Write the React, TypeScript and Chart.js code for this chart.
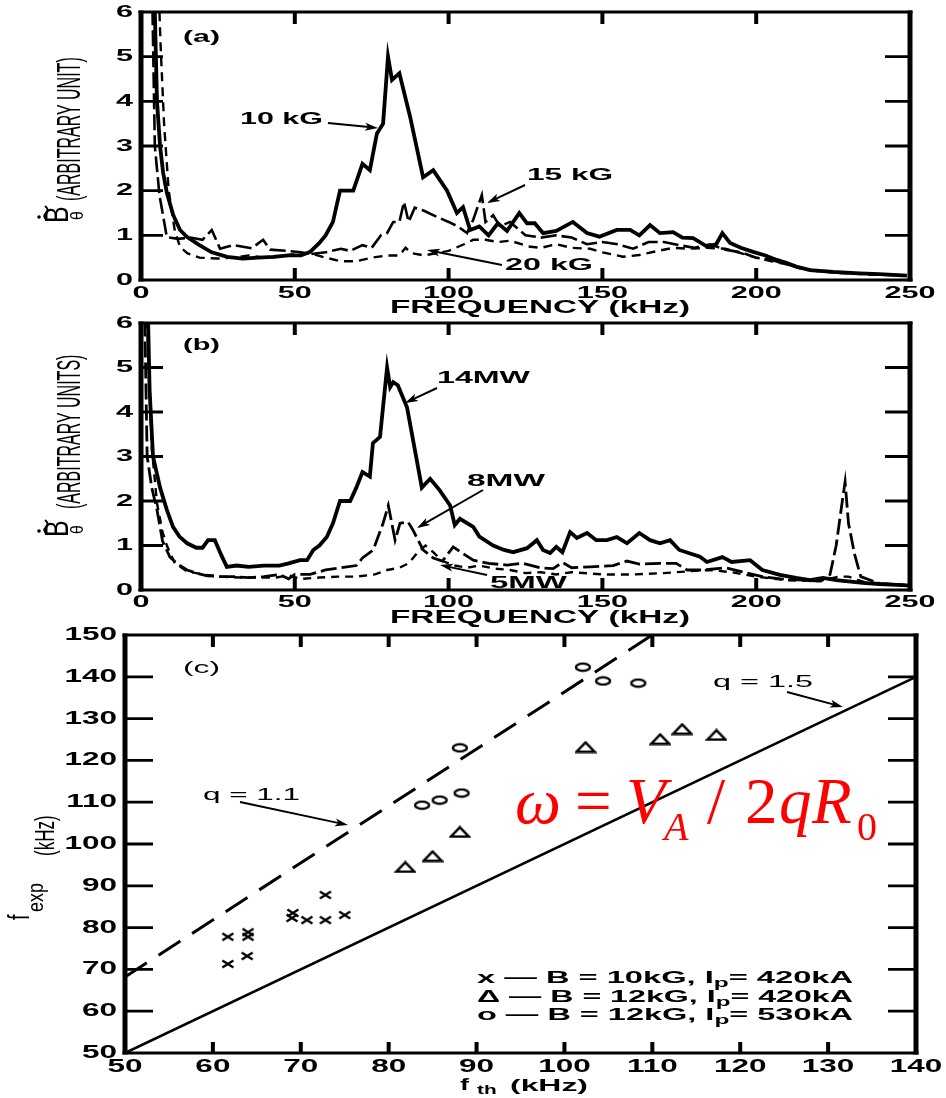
import React, { useEffect, useRef } from "react";
import { Chart, registerables } from "chart.js";

Chart.register(...registerables);

// ---------------- Panel (a): frequency spectra vs toroidal field ----------------
const freqA10 = [3, 4.5, 5.2, 6.2, 7.2, 8.4, 10.5, 12.7, 15, 19, 23, 28, 33, 38, 43, 48, 52, 55, 58, 60, 62.4, 64.7, 69, 72, 74.4, 76.7, 78.7, 80.3, 81.6, 84, 87.5, 91.7, 95, 99.5, 102.7, 104.7, 107, 110, 113, 116, 119, 123, 125.5, 128, 130.7, 135, 140.4, 145, 149, 154.7, 159, 162, 165.5, 168.7, 173, 176, 179.5, 184, 187, 189, 191.5, 195, 199, 203, 206.7, 210, 213, 217.5, 225, 233.7, 240, 249];
const valA10 = [8, 6, 4, 3, 2.4, 1.95, 1.45, 1.12, 0.96, 0.78, 0.62, 0.52, 0.48, 0.5, 0.52, 0.55, 0.55, 0.63, 0.83, 1.0, 1.3, 2.0, 2.0, 2.6, 2.46, 3.28, 3.5, 5.0, 4.48, 4.63, 3.65, 2.3, 2.46, 2.0, 1.5, 1.63, 1.12, 1.2, 1.0, 1.27, 1.1, 1.5, 1.27, 1.27, 1.05, 1.1, 1.3, 1.05, 0.97, 1.12, 1.12, 1.0, 1.23, 1.05, 1.07, 0.95, 0.94, 0.75, 0.8, 1.05, 0.83, 0.72, 0.63, 0.55, 0.45, 0.38, 0.3, 0.22, 0.18, 0.15, 0.13, 0.1];

const freqA15 = [3.5, 4.5, 6, 8.4, 12, 16, 20, 23, 25.7, 30, 36, 39.7, 42, 48, 52, 55, 60, 65, 68, 72, 75, 78, 80, 82, 84, 85.5, 87, 89, 92, 96, 100, 103, 106, 108, 110.8, 112, 114.5, 116.7, 120, 125, 130, 135, 140, 145, 150, 155, 160, 165, 170, 175, 180, 185, 190, 195, 200, 205, 210, 215, 220, 230, 240, 250];
const valA15 = [7, 3, 1.9, 0.96, 0.92, 0.95, 0.9, 1.12, 0.7, 0.78, 0.71, 0.9, 0.68, 0.65, 0.62, 0.58, 0.62, 0.7, 0.65, 0.78, 0.72, 1.0, 1.05, 1.3, 1.3, 1.75, 1.3, 1.62, 1.55, 1.42, 1.3, 1.2, 1.05, 1.35, 1.9, 1.3, 1.45, 1.2, 1.3, 1.0, 0.95, 1.0, 0.95, 0.8, 0.85, 0.8, 0.7, 0.85, 0.85, 0.78, 0.72, 0.8, 0.68, 0.62, 0.5, 0.45, 0.35, 0.25, 0.2, 0.15, 0.12, 0.1];

const freqA20 = [5.5, 6.4, 7.5, 9, 11, 12.7, 15, 19, 25, 30, 35, 40, 45, 50, 55, 60, 65, 70, 75, 80, 84, 86, 88, 92, 96, 100, 105, 108, 112, 116, 120, 126, 130, 135, 140, 146, 150, 156.7, 162, 168, 173, 178, 184, 190, 195, 200, 205, 210, 215, 220, 230, 240, 250];
const valA20 = [7, 5.2, 3.5, 2, 1.1, 0.74, 0.6, 0.5, 0.48, 0.5, 0.55, 0.5, 0.52, 0.58, 0.6, 0.5, 0.42, 0.42, 0.5, 0.55, 0.55, 0.72, 0.6, 0.55, 0.6, 0.65, 0.8, 0.9, 0.9, 0.85, 0.88, 0.75, 0.72, 0.8, 0.72, 0.7, 0.62, 0.52, 0.56, 0.65, 0.72, 0.7, 0.72, 0.7, 0.6, 0.5, 0.42, 0.35, 0.25, 0.2, 0.14, 0.12, 0.1];

// ---------------- Panel (b): frequency spectra vs heating power ----------------
const freqB14 = [2, 2.8, 3.9, 6.2, 8.4, 10.4, 12.5, 15, 18, 20, 21.8, 24, 26, 27.9, 31, 35, 40, 45, 48, 51.7, 54, 56, 58, 60.4, 62.4, 64.7, 68, 70, 72, 74.4, 75.4, 77.7, 80, 81, 82, 83.5, 86.5, 91.3, 94, 97, 100.5, 102, 103.7, 108, 110, 114.5, 118, 121, 125.5, 128.7, 130.7, 133, 135, 137, 139.5, 141.7, 145, 148, 151.5, 154.7, 158, 162, 165.5, 168.7, 172, 175, 181.7, 184, 189, 192, 198, 202, 207.7, 213, 217.5, 221.7, 226, 234.7, 240, 247.7, 250];
const valB14 = [7, 4.5, 3, 2.3, 1.8, 1.42, 1.2, 1.05, 0.95, 0.95, 1.12, 1.12, 0.8, 0.52, 0.55, 0.52, 0.55, 0.55, 0.6, 0.67, 0.67, 0.9, 1.0, 1.19, 1.5, 2.0, 2.0, 2.3, 2.65, 2.55, 3.3, 3.44, 5.0, 4.56, 4.67, 4.6, 4.1, 2.3, 2.5, 2.25, 1.9, 1.46, 1.6, 1.42, 1.2, 1.0, 0.9, 0.85, 0.94, 1.12, 0.9, 0.83, 0.97, 0.85, 1.3, 1.17, 1.28, 1.12, 1.12, 1.19, 1.05, 1.28, 1.12, 1.05, 1.12, 0.9, 0.75, 0.63, 0.74, 0.63, 0.67, 0.45, 0.34, 0.27, 0.22, 0.27, 0.22, 0.16, 0.13, 0.11, 0.1];

const freqB8 = [1, 2, 3.5, 5.2, 7, 9.4, 12, 15, 18, 21.5, 26, 30, 35, 40, 45, 48, 50, 55, 60, 65, 70, 72, 75.5, 78.7, 80.4, 82.6, 84.2, 86.8, 88.4, 91.7, 95, 98, 101.5, 104, 108, 113, 119, 124, 129.7, 134, 137, 140, 146, 153.5, 158, 162, 168.7, 174, 177.5, 183, 190, 196, 202, 208, 215, 221, 224, 226, 228, 228.9, 230, 232, 234, 240, 250];
const valB8 = [7, 3, 2.3, 1.8, 1.1, 0.74, 0.58, 0.45, 0.38, 0.32, 0.3, 0.3, 0.28, 0.3, 0.35, 0.25, 0.35, 0.35, 0.45, 0.5, 0.55, 0.72, 0.9, 1.5, 1.9, 1.12, 1.5, 1.53, 1.35, 0.9, 0.72, 0.65, 0.97, 0.85, 0.67, 0.6, 0.56, 0.6, 0.5, 0.48, 0.62, 0.5, 0.52, 0.55, 0.65, 0.58, 0.6, 0.6, 0.45, 0.45, 0.5, 0.4, 0.3, 0.25, 0.22, 0.2, 0.35, 1.0, 2.0, 2.43, 1.5, 0.8, 0.3, 0.15, 0.1];

const freqB5 = [1.5, 2.5, 3.5, 5.2, 7, 8.4, 11, 15, 20, 26, 32, 38, 44, 48, 52, 58, 64, 70, 76, 80, 84, 87, 90, 92.5, 95, 98, 102, 106, 110, 115, 120, 125, 130, 135, 140, 150, 160, 170, 178, 185, 192, 200, 210, 220, 227, 230, 235, 245, 250];
const valB5 = [7, 5, 3.2, 1.95, 1.3, 1.0, 0.6, 0.42, 0.35, 0.3, 0.28, 0.28, 0.28, 0.33, 0.25, 0.28, 0.3, 0.3, 0.35, 0.45, 0.5, 0.6, 0.85, 1.0, 0.85, 0.65, 0.55, 0.5, 0.55, 0.48, 0.45, 0.38, 0.4, 0.35, 0.4, 0.35, 0.35, 0.38, 0.42, 0.45, 0.4, 0.3, 0.22, 0.2, 0.3, 0.3, 0.18, 0.12, 0.1];

const freqTicks = [0, 50, 100, 150, 200, 250];
const ampTicks = [0, 1, 2, 3, 4, 5, 6];

// ---------------- Panel (c): f_exp vs f_th ----------------
const crossFth = [61.7, 61.7, 63.9, 64, 64, 69.1, 69, 70.7, 72.8, 72.8, 75];
const crossFexp = [77.8, 71.3, 73.2, 78.9, 77.8, 83.5, 82.3, 81.8, 81.8, 87.8, 83];
const triFth = [81.9, 85, 88.1, 102.4, 110.9, 113.4, 117.3];
const triFexp = [94.5, 97.1, 102.9, 123.2, 125.1, 127.5, 126.1];
const circFth = [83.8, 85.8, 88.3, 88.1, 102.1, 104.4, 108.4];
const circFexp = [109.3, 110.5, 112.2, 123.0, 142.3, 139.0, 138.5];
const q15Fth = [50, 140];
const q15Fexp = [50, 140];
const q11Fth = [50, 110];
const q11Fexp = [68.2, 150];
const fthTicks = [50, 60, 70, 80, 90, 100, 110, 120, 130, 140];
const fexpTicks = [50, 60, 70, 80, 90, 100, 110, 120, 130, 140, 150];

// ---------------- layout geometry (plot-area sizes in px) ----------------
const GEO_A = { cw: 946, ch: 320, left: 141, right: 910, top: 12, bottom: 280 };
const GEO_B = { cw: 946, ch: 320, left: 141, right: 910, top: 13, bottom: 280 };
const GEO_C = { cw: 946, ch: 478, left: 125, right: 916, top: 15, bottom: 433 };

// ---------------- drawing helpers ----------------
const SANS = '"Liberation Sans", Arial, Helvetica, sans-serif';
const SERIF = '"Liberation Serif", "Times New Roman", serif';
const SX = 1.8;

function fnt(size: number, bold = false, italic = false, fam = SANS) {
  return `${italic ? "italic " : ""}${bold ? "bold " : ""}${size}px ${fam}`;
}

function textAt(ctx: any, txt: string, x: number, y: number, size: number, opt: any = {}) {
  const sx = opt.sx ?? SX;
  ctx.save();
  ctx.font = fnt(size, !!opt.bold, !!opt.italic, opt.fam ?? SANS);
  ctx.textBaseline = opt.base ?? "middle";
  ctx.textAlign = "left";
  const w = ctx.measureText(txt).width * sx;
  const x0 = opt.align === "center" ? x - w / 2 : opt.align === "right" ? x - w : x;
  ctx.translate(x0, y);
  ctx.scale(sx, 1);
  ctx.fillStyle = opt.color ?? "#000";
  ctx.fillText(txt, 0, 0);
  ctx.restore();
  return w;
}

function fitText(ctx: any, txt: string, x0: number, x1: number, y: number, size: number, bold = false) {
  ctx.save();
  ctx.font = fnt(size, bold);
  const w = ctx.measureText(txt).width;
  ctx.restore();
  textAt(ctx, txt, x0, y, size, { bold, sx: (x1 - x0) / w });
}

type Seg = { t: string; size: number; dy?: number; bold?: boolean };
function fitSegs(ctx: any, parts: Seg[], x0: number, x1: number, y: number) {
  const ws: number[] = [];
  let total = 0;
  ctx.save();
  for (const s of parts) {
    ctx.font = fnt(s.size, !!s.bold);
    const w = ctx.measureText(s.t).width;
    ws.push(w);
    total += w;
  }
  ctx.restore();
  const sx = (x1 - x0) / total;
  let x = x0;
  parts.forEach((s, i) => {
    textAt(ctx, s.t, x, y + (s.dy ?? 0), s.size, { bold: s.bold, sx, base: "alphabetic" });
    x += ws[i] * sx;
  });
}

function vText(ctx: any, txt: string, bx: number, by: number, size: number, sy: number, bold = false) {
  ctx.save();
  ctx.translate(bx, by);
  ctx.rotate(-Math.PI / 2);
  ctx.scale(1, sy);
  ctx.font = fnt(size, bold);
  ctx.textBaseline = "alphabetic";
  ctx.textAlign = "left";
  ctx.fillStyle = "#000";
  ctx.fillText(txt, 0, 0);
  ctx.restore();
}

function arrow(ctx: any, x1: number, y1: number, x2: number, y2: number, lw = 2, head = 13) {
  ctx.save();
  ctx.setLineDash([]);
  ctx.strokeStyle = "#000";
  ctx.fillStyle = "#000";
  ctx.lineWidth = lw;
  const a = Math.atan2(y2 - y1, x2 - x1);
  const c = Math.cos(a), s = Math.sin(a);
  ctx.beginPath();
  ctx.moveTo(x1, y1);
  ctx.lineTo(x2 - c * head * 0.7, y2 - s * head * 0.7);
  ctx.stroke();
  ctx.beginPath();
  ctx.moveTo(x2, y2);
  ctx.lineTo(x2 - head * c + 4 * s, y2 - head * s - 4 * c);
  ctx.lineTo(x2 - head * c * 0.75, y2 - head * s * 0.75);
  ctx.lineTo(x2 - head * c - 4 * s, y2 - head * s + 4 * c);
  ctx.closePath();
  ctx.fill();
  ctx.restore();
}

// tick labels, titles and annotations
function labelPlugin(id: string, cfg: any, extra: (ctx: any) => void) {
  return {
    id,
    afterDraw(chart: any) {
      const ctx = chart.ctx;
      const xs = chart.scales.x;
      const ys = chart.scales.y;
      ctx.save();
      (cfg.yTicks as number[]).forEach((v) =>
        textAt(ctx, String(v), cfg.yLabelX, ys.getPixelForValue(v), cfg.labelSize, { bold: true, align: "right", sx: cfg.labelSx })
      );
      (cfg.xTicks as number[]).forEach((v) =>
        textAt(ctx, String(v), xs.getPixelForValue(v), cfg.xLabelY, cfg.labelSize, { bold: true, align: "center", sx: cfg.labelSx })
      );
      extra(ctx);
      ctx.restore();
    },
  };
}

function lineDs(xs: number[], ys: number[], w: number, dash: number[]) {
  return {
    data: xs.map((x, i) => ({ x, y: ys[i] })),
    borderColor: "#000",
    backgroundColor: "#000",
    borderWidth: w,
    borderDash: dash,
    pointRadius: 0,
    tension: 0,
    fill: false,
  };
}

// frame and inward tick marks, drawn as line datasets through the chart's scales
function frameDatasets(xt: number[], yt: number[], geo: any, len: { yL: number; yR: number; xT: number; xB: number }) {
  const x0 = xt[0], x1 = xt[xt.length - 1], y0 = yt[0], y1 = yt[yt.length - 1];
  const xPer = (x1 - x0) / (geo.right - geo.left);
  const yPer = (y1 - y0) / (geo.bottom - geo.top);
  const gap = (x: number) => ({ x, y: null as any });
  const yTickPts: any[] = [];
  yt.slice(1, -1).forEach((v) => {
    yTickPts.push({ x: x0, y: v }, { x: x0 + len.yL * xPer, y: v }, gap(x0));
    yTickPts.push({ x: x1 - len.yR * xPer, y: v }, { x: x1, y: v }, gap(x1));
  });
  const xTickPts: any[] = [];
  xt.slice(1, -1).forEach((v) => {
    xTickPts.push({ x: v, y: y1 }, { x: v, y: y1 - len.xT * yPer }, gap(v));
    xTickPts.push({ x: v, y: y0 }, { x: v, y: y0 + len.xB * yPer }, gap(v));
  });
  const hPts = [{ x: x0 - 2.5 * xPer, y: y1 }, { x: x1 + 2.5 * xPer, y: y1 }, gap(x1), { x: x0 - 2.5 * xPer, y: y0 }, { x: x1 + 2.5 * xPer, y: y0 }];
  const vPts = [{ x: x0, y: y0 - 1.5 * yPer }, { x: x0, y: y1 + 1.5 * yPer }, gap(x0), { x: x1, y: y0 - 1.5 * yPer }, { x: x1, y: y1 + 1.5 * yPer }];
  const mk = (data: any[], w: number) => ({
    data,
    borderColor: "#000",
    backgroundColor: "#000",
    borderWidth: w,
    borderDash: [],
    borderCapStyle: "butt",
    pointRadius: 0,
    tension: 0,
    fill: false,
    spanGaps: false,
    clip: false,
  });
  return [mk(yTickPts, 2.8), mk(xTickPts, 4), mk(hPts, 3), mk(vPts, 5)];
}

function scaleOpts(min: number, max: number, ticks: number[], fit: (s: any) => void) {
  return {
    type: "linear",
    min,
    max,
    ticks: { display: false },
    grid: { display: false },
    border: { display: false },
    afterBuildTicks: (s: any) => {
      s.ticks = ticks.map((v) => ({ value: v }));
    },
    afterFit: fit,
  };
}

function baseOptions(geo: any, xScale: any, yScale: any) {
  return {
    animation: false,
    responsive: false,
    events: [],
    layout: { padding: { left: 0, right: geo.cw - geo.right, top: geo.top, bottom: 0 }, autoPadding: false },
    plugins: { legend: { display: false }, tooltip: { enabled: false } },
    scales: { x: xScale, y: yScale },
  };
}

function drawYTitle(ctx: any, label: string, bTop: number, pStart: number) {
  vText(ctx, "B", 68, bTop, 25, 1.3, false);
  vText(ctx, "θ", 83, bTop - 3, 16, 1.2, false);
  ctx.save();
  ctx.strokeStyle = "#000";
  ctx.fillStyle = "#000";
  ctx.lineWidth = 2;
  ctx.beginPath();
  ctx.moveTo(47, bTop - 3);
  ctx.quadraticCurveTo(42, bTop - 7, 46, bTop - 10);
  ctx.quadraticCurveTo(50, bTop - 13, 45, bTop - 17);
  ctx.stroke();
  ctx.beginPath();
  ctx.arc(39, bTop - 6, 1.8, 0, Math.PI * 2);
  ctx.fill();
  ctx.restore();
  vText(ctx, label, 80, pStart, 16, 2.1, false);
}

export default function App() {
  const refA = useRef<HTMLCanvasElement>(null);
  const refB = useRef<HTMLCanvasElement>(null);
  const refC = useRef<HTMLCanvasElement>(null);

  useEffect(() => {
    const charts: Chart[] = [];
    const cfgAB = { xTicks: freqTicks, yTicks: ampTicks, yLabelX: 133, labelSize: 17, labelSx: 1.8 };
    const lenAB = { yL: 22, yR: 25, xT: 12, xB: 12 };

    // ---------- (a) ----------
    charts.push(
      new Chart(refA.current as HTMLCanvasElement, {
        type: "line",
        data: {
          datasets: [
            ...frameDatasets(freqTicks, ampTicks, GEO_A, lenAB),
            lineDs(freqA10, valA10, 3.8, []),
            lineDs(freqA15, valA15, 2.6, [16, 5]),
            lineDs(freqA20, valA20, 2.4, [9, 6]),
          ] as any,
        },
        options: baseOptions(
          GEO_A,
          scaleOpts(0, 250, freqTicks, (s: any) => { s.height = GEO_A.ch - GEO_A.bottom; }),
          scaleOpts(0, 6, ampTicks, (s: any) => { s.width = GEO_A.left; })
        ) as any,
        plugins: [
          labelPlugin("labA", { ...cfgAB, xLabelY: 293 }, (ctx: any) => {
            fitText(ctx, "(a)", 183, 220, 37, 17, true);
            fitText(ctx, "10 kG", 240, 323, 119, 17, true);
            arrow(ctx, 328, 123, 378, 128);
            fitText(ctx, "15 kG", 527, 613, 175, 17, true);
            arrow(ctx, 525, 185, 487, 203);
            fitText(ctx, "20 kG", 505, 593, 265, 17, true);
            arrow(ctx, 502, 265, 427, 250);
            fitText(ctx, "FREQUENCY (kHz)", 390, 690, 308, 18, true);
            drawYTitle(ctx, "(ARBITRARY UNIT)", 223, 201);
          }),
        ],
      })
    );

    // ---------- (b) ----------
    charts.push(
      new Chart(refB.current as HTMLCanvasElement, {
        type: "line",
        data: {
          datasets: [
            ...frameDatasets(freqTicks, ampTicks, GEO_B, lenAB),
            lineDs(freqB14, valB14, 3.8, []),
            lineDs(freqB8, valB8, 2.8, [16, 5]),
            lineDs(freqB5, valB5, 2.4, [8, 6]),
          ] as any,
        },
        options: baseOptions(
          GEO_B,
          scaleOpts(0, 250, freqTicks, (s: any) => { s.height = GEO_B.ch - GEO_B.bottom; }),
          scaleOpts(0, 6, ampTicks, (s: any) => { s.width = GEO_B.left; })
        ) as any,
        plugins: [
          labelPlugin("labB", { ...cfgAB, xLabelY: 292 }, (ctx: any) => {
            fitText(ctx, "(b)", 183, 220, 35, 17, true);
            fitText(ctx, "14MW", 437, 530, 68, 17, true);
            arrow(ctx, 437, 78, 405, 93);
            fitText(ctx, "8MW", 467, 545, 171, 17, true);
            arrow(ctx, 483, 180, 417, 218);
            fitText(ctx, "5MW", 490, 567, 273, 17, true);
            arrow(ctx, 487, 265, 440, 255);
            fitText(ctx, "FREQUENCY (kHz)", 390, 690, 308, 18, true);
            drawYTitle(ctx, "(ARBITRARY UNITS)", 227, 199);
          }),
        ],
      })
    );

    // ---------- (c) ----------
    const mk = (w: number, h: number, draw: (g: CanvasRenderingContext2D) => void) => {
      const c = document.createElement("canvas");
      c.width = w;
      c.height = h;
      const g = c.getContext("2d") as CanvasRenderingContext2D;
      g.strokeStyle = "#000";
      draw(g);
      return c;
    };
    const crossImg = mk(14, 10, (g) => {
      g.lineWidth = 2.2;
      g.beginPath();
      g.moveTo(1.5, 1.5); g.lineTo(12.5, 8.5);
      g.moveTo(12.5, 1.5); g.lineTo(1.5, 8.5);
      g.stroke();
    });
    const triImg = mk(22, 13, (g) => {
      g.lineWidth = 2.4;
      g.beginPath();
      g.moveTo(11, 1.8); g.lineTo(20.2, 11.3); g.lineTo(1.8, 11.3);
      g.closePath();
      g.stroke();
    });
    const circImg = mk(18, 11, (g) => {
      g.lineWidth = 2.4;
      g.beginPath();
      g.ellipse(9, 5.5, 7, 3.6, 0, 0, Math.PI * 2);
      g.stroke();
    });
    const ptDs = (xs: number[], ys: number[], img: HTMLCanvasElement) => ({
      data: xs.map((x, i) => ({ x, y: ys[i] })),
      showLine: false,
      pointStyle: img,
      pointRadius: 5,
      borderColor: "#000",
      backgroundColor: "#000",
    });
    const cfgC = { xTicks: fthTicks, yTicks: fexpTicks, yLabelX: 117, xLabelY: 447, labelSize: 18, labelSx: 1.75 };

    charts.push(
      new Chart(refC.current as HTMLCanvasElement, {
        type: "line",
        data: {
          datasets: [
            ...frameDatasets(fthTicks, fexpTicks, GEO_C, { yL: 28, yR: 28, xT: 12, xB: 11 }),
            lineDs(q15Fth, q15Fexp, 2.6, []),
            lineDs(q11Fth, q11Fexp, 3, [26, 14]),
            ptDs(crossFth, crossFexp, crossImg),
            ptDs(triFth, triFexp, triImg),
            ptDs(circFth, circFexp, circImg),
          ] as any,
        },
        options: baseOptions(
          GEO_C,
          scaleOpts(50, 140, fthTicks, (s: any) => { s.height = GEO_C.ch - GEO_C.bottom; }),
          scaleOpts(50, 150, fexpTicks, (s: any) => { s.width = GEO_C.left; })
        ) as any,
        plugins: [
          labelPlugin("labC", cfgC, (ctx: any) => {
            fitText(ctx, "(c)", 183, 220, 48, 17, false);
            fitText(ctx, "q = 1.1", 203, 300, 175, 17, false);
            arrow(ctx, 240, 182, 348, 205);
            fitText(ctx, "q = 1.5", 713, 813, 62, 17, false);
            arrow(ctx, 787, 72, 843, 87);
            const leg: [string, string][] = [
              ["x — B = 10kG, I", "= 420kA"],
              ["Δ — B = 12kG, I", "= 420kA"],
              ["o — B = 12kG, I", "= 530kA"],
            ];
            const ly = [363, 382, 400];
            leg.forEach((l, i) => {
              fitSegs(
                ctx,
                [
                  { t: l[0], size: 16, bold: true },
                  { t: "p", size: 12, dy: 4, bold: true },
                  { t: l[1], size: 16, bold: true },
                ],
                477,
                853,
                ly[i]
              );
            });
            // x-axis title f_th (kHz)
            textAt(ctx, "f", 460, 470, 17, { bold: true, base: "alphabetic", sx: 1.6 });
            textAt(ctx, "th", 477, 474, 13, { bold: true, base: "alphabetic", sx: 1.6 });
            fitSegs(ctx, [{ t: "(kHz)", size: 17, bold: true }], 510, 588, 471);
            // y-axis title f_exp(kHz)
            vText(ctx, "f", 29, 300, 20, 1.5, false);
            vText(ctx, "exp", 43, 292, 18, 1.2, false);
            vText(ctx, "(kHz)", 54, 236, 17, 1.6, false);
            // red formula
            const red = "#ff0000";
            const base = 203, sub = 220;
            textAt(ctx, "ω", 515, base, 65, { italic: true, fam: SERIF, sx: 1, base: "alphabetic", color: red });
            textAt(ctx, "=", 575, base, 65, { fam: SERIF, sx: 1, base: "alphabetic", color: red });
            textAt(ctx, "V", 626, base, 65, { italic: true, fam: SERIF, sx: 1, base: "alphabetic", color: red });
            textAt(ctx, "A", 664, sub, 40, { italic: true, fam: SERIF, sx: 1, base: "alphabetic", color: red });
            textAt(ctx, "/", 707, base, 65, { fam: SERIF, sx: 1, base: "alphabetic", color: red });
            textAt(ctx, "2", 745, base, 65, { fam: SERIF, sx: 1, base: "alphabetic", color: red });
            textAt(ctx, "q", 779, base, 65, { italic: true, fam: SERIF, sx: 1, base: "alphabetic", color: red });
            textAt(ctx, "R", 812, base, 65, { italic: true, fam: SERIF, sx: 1, base: "alphabetic", color: red });
            textAt(ctx, "0", 857, sub, 40, { fam: SERIF, sx: 1, base: "alphabetic", color: red });
          }),
        ],
      })
    );

    return () => {
      charts.forEach((c) => c.destroy());
    };
  }, []);

  return (
    <div style={{ position: "absolute", left: 0, top: 0, width: 946, height: 1098, background: "#fff" }}>
      <canvas ref={refA} width={GEO_A.cw} height={GEO_A.ch} style={{ position: "absolute", left: 0, top: 0 }} />
      <canvas ref={refB} width={GEO_B.cw} height={GEO_B.ch} style={{ position: "absolute", left: 0, top: 310 }} />
      <canvas ref={refC} width={GEO_C.cw} height={GEO_C.ch} style={{ position: "absolute", left: 0, top: 620 }} />
    </div>
  );
}
